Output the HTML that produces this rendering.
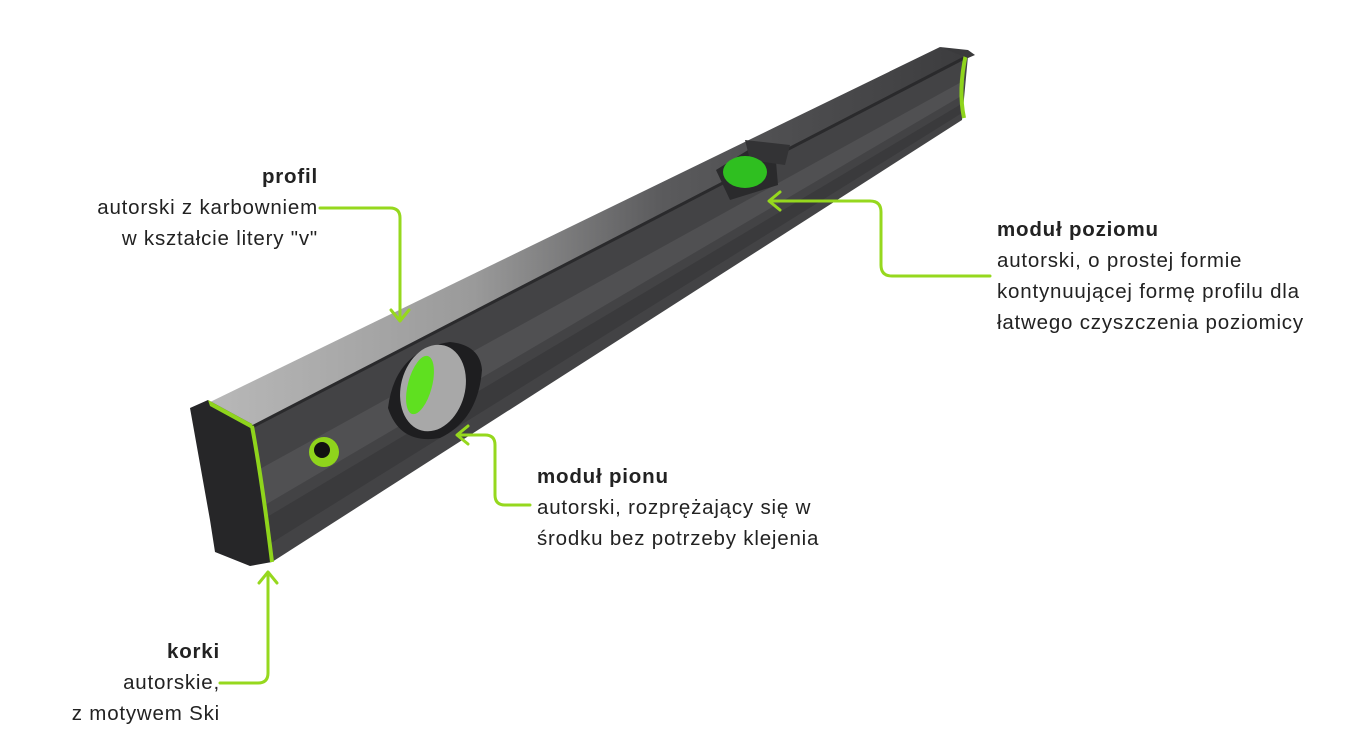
<!DOCTYPE html>
<html><head><meta charset="utf-8"><style>
body{margin:0;width:1369px;height:730px;background:#fff;overflow:hidden;position:relative;font-family:"Liberation Sans","DejaVu Sans",sans-serif;color:#222}
.t{position:absolute;font-size:20.5px;line-height:31px;letter-spacing:0.8px}
b{font-weight:bold}
</style></head><body>
<svg width="1369" height="730" style="position:absolute;left:0;top:0">
<defs>
<linearGradient id="top" x1="0" y1="0" x2="1" y2="0">
<stop offset="0" stop-color="#b8b8b8"/><stop offset="0.35" stop-color="#9a9a9a"/><stop offset="0.6" stop-color="#5a5a5c"/><stop offset="1" stop-color="#3c3c3e"/></linearGradient>
</defs>
<polygon points="208,403 252,427 968,56 940,47" fill="url(#top)"/>
<polygon points="252,427 272,562 962,120 968,56" fill="#434345"/>
<polygon points="258,470 265,505 963,95 965,80" fill="#505052"/>
<polygon points="262,520 268,545 962,113 963,103" fill="#3a3a3c"/>
<line x1="252" y1="427" x2="968" y2="56" stroke="#2a2a2c" stroke-width="3"/>
<polygon points="190,408 208,400 252,424 272,562 250,566 215,552 210,520" fill="#262628"/>
<polygon points="208,400 252,424 254,430 210,406" fill="#8fd41c"/>
<path d="M252,426 Q262,480 272,562" stroke="#8fd41c" stroke-width="4" fill="none"/>
<path d="M966,54 Q958,90 964,118" stroke="#8fd41c" stroke-width="4" fill="none"/>
<polygon points="940,47 968,50 975,55 968,58" fill="#3a3a3c"/>
<circle cx="324" cy="452" r="15" fill="#8fd41c"/><circle cx="322" cy="450" r="8" fill="#111"/>
<path d="M388,408 Q395,350 450,342 Q480,345 482,370 Q478,420 440,438 Q400,445 388,408Z" fill="#1e1e20"/>
<ellipse cx="433" cy="388" rx="32" ry="44" fill="#a8a8a8" transform="rotate(15 433 388)"/>
<ellipse cx="420" cy="385" rx="12" ry="30" fill="#5fe020" transform="rotate(15 420 385)"/>
<polygon points="716,170 748,150 775,150 778,185 730,200" fill="#2a2a2c"/>
<polygon points="745,140 790,145 785,165 750,160" fill="#333335"/>
<ellipse cx="745" cy="172" rx="22" ry="16" fill="#2fbf20"/>
<g stroke="#96d81e" stroke-width="3" fill="none" stroke-linecap="round" stroke-linejoin="round">
<path d="M320,208 H390 Q400,208 400,218 V320"/><path d="M391,310 L400,321 L409,310"/>
<path d="M990,276 H892 Q881,276 881,265 V212 Q881,201 870,201 H770"/><path d="M780,192 L769,201 L780,210"/>
<path d="M530,505 H505 Q495,505 495,495 V445 Q495,435 485,435 H458"/><path d="M468,426 L457,435 L468,444"/>
<path d="M220,683 H258 Q268,683 268,673 V573"/><path d="M259,583 L268,572 L277,583"/>
</g>
</svg>
<div class="t" style="right:1051px;top:161px;text-align:right"><b>profil</b><br>autorski z karbowniem<br>w kształcie litery "v"</div>
<div class="t" style="left:997px;top:214px"><b>moduł poziomu</b><br>autorski, o prostej formie<br>kontynuującej formę profilu dla<br>łatwego czyszczenia poziomicy</div>
<div class="t" style="left:537px;top:461px"><b>moduł pionu</b><br>autorski, rozprężający się w<br>środku bez potrzeby klejenia</div>
<div class="t" style="right:1149px;top:636px;text-align:right"><b>korki</b><br>autorskie,<br>z motywem Ski</div>
</body></html>
